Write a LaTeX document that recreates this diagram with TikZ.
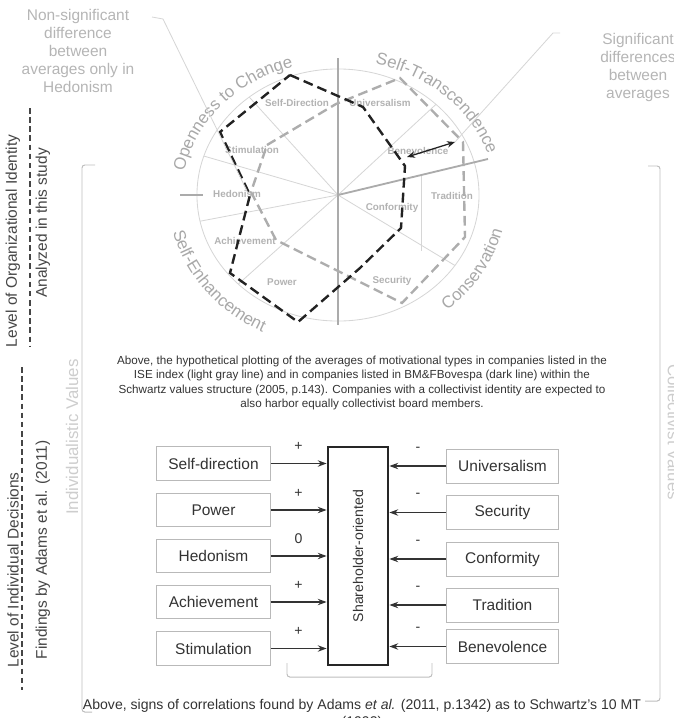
\documentclass[tikz,border=0pt]{standalone}
\usepackage{fontspec}
\setmainfont{Liberation Sans}
\usetikzlibrary{arrows.meta,positioning,calc,decorations.text}
\definecolor{inkdark}{HTML}{222222}
\definecolor{textdark}{HTML}{333333}
\definecolor{sidedark}{HTML}{454545}
\definecolor{polylight}{HTML}{ADADAD}
\definecolor{axisgray}{HTML}{ABABAB}
\definecolor{spokegray}{HTML}{D6D6D6}
\definecolor{notegray}{HTML}{B5B5B5}
\definecolor{groupgray}{HTML}{A8A8A8}
\definecolor{valgray}{HTML}{B2B2B2}
\definecolor{boxgray}{HTML}{B9B9B9}
\definecolor{bracegray}{HTML}{BDBDBD}
\definecolor{paleside}{HTML}{CDCDCD}
\tikzset{
  spoke/.style={draw=spokegray, line width=0.6pt},
  axisline/.style={draw=axisgray, line width=1.3pt},
  darkpoly/.style={draw=inkdark, line width=1.7pt, dash pattern=on 7pt off 3.6pt},
  lightpoly/.style={draw=polylight, line width=1.7pt, dash pattern=on 7pt off 3.6pt},
  vallab/.style={font=\fontsize{7}{8}\selectfont\bfseries, text=valgray, inner sep=0pt},
  note/.style={font=\fontsize{11}{12.8}\selectfont, text=notegray, align=center},
  leader/.style={draw=spokegray, line width=0.6pt},
  caption/.style={font=\fontsize{8.3}{10}\selectfont, text=textdark, align=center},
  valbox/.style={draw=boxgray, line width=0.7pt, fill=white, minimum height=0.83cm,
                 font=\fontsize{11}{13}\selectfont, text=textdark, inner sep=0pt},
  hubbox/.style={draw=black!85, line width=2pt, minimum width=1.5cm, minimum height=5.45cm, inner sep=0pt},
  arr/.style={-{Stealth[length=2.2mm, width=1.6mm]}, line width=0.8pt, draw=textdark},
  sign/.style={font=\fontsize{10}{11}\selectfont, text=textdark, text height=6.5pt, text depth=0pt, inner sep=1pt},
  sidetxt/.style={font=\fontsize{11}{13}\selectfont, text=sidedark, rotate=90},
  palesidetxt/.style={font=\fontsize{12}{14}\selectfont, text=paleside},
  levelline/.style={draw=sidedark, line width=0.8pt, dash pattern=on 4pt off 2.5pt},
  brace/.style={draw=bracegray, line width=0.7pt, rounded corners=2pt},
}
\begin{document}
\begin{tikzpicture}[x=0.025cm, y=0.025cm]
  \useasboundingbox (0,0) rectangle (674,-718);

  % value circle
  \coordinate (C) at (338,-195);
  \draw[spoke] (C) ellipse[x radius=3.525cm, y radius=3.15cm];
  \foreach \a in {129,162,192,225,46,-34}
    \draw[spoke] (C) -- ($(C)+(\a:3.525cm and 3.15cm)$);
  \draw[spoke] (421,-175) -- (421,-251);
  \draw[axisline] (338,-58) -- (338,-325);
  \draw[axisline] (C) -- (488,-159);
  \draw[axisline] (180,-195) -- (203,-195);

  % higher order types
  \path[decorate, decoration={text along path, text align=center,
      text={|\fontsize{12}{14}\selectfont\color{groupgray}|Openness to Change}}]
    ($(C)+(195:3.9cm and 3.35cm)$) arc[start angle=195, end angle=85, x radius=3.9cm, y radius=3.35cm];
  \path[decorate, decoration={text along path, text align=center,
      text={|\fontsize{12}{14}\selectfont\color{groupgray}|Self-Transcendence}}]
    ($(C)+(100:3.925cm and 3.375cm)$) arc[start angle=100, end angle=-10, x radius=3.925cm, y radius=3.375cm];
  \path[decorate, decoration={text along path, text align=center,
      text={|\fontsize{12}{14}\selectfont\color{groupgray}|Self-Enhancement}}]
    ($(C)+(165:4.25cm and 3.825cm)$) arc[start angle=165, end angle=270, x radius=4.25cm, y radius=3.825cm];
  \path[decorate, decoration={text along path, text align=center,
      text={|\fontsize{12}{14}\selectfont\color{groupgray}|Conservation}}]
    ($(C)+(275:4.225cm and 3.775cm)$) arc[start angle=275, end angle=385, x radius=4.225cm, y radius=3.775cm];

  % motivational types
  \node[vallab] (lsd) at (297,-103) {Self-Direction};
  \node[vallab] (lun) at (380,-103) {Universalism};
  \node[vallab] (lst) at (252,-150) {Stimulation};
  \node[vallab] (lbe) at (418,-151) {Benevolence};
  \node[vallab] (lhe) at (237,-194) {Hedonism};
  \node[vallab] (ltr) at (452,-196) {Tradition};
  \node[vallab] (lco) at (392,-208) {Conformity};
  \node[vallab] (lac) at (245,-241) {Achievement};
  \node[vallab] (lpo) at (282,-282) {Power};
  \node[vallab] (lse) at (392,-281) {Security};

  % averages: ISE (light) and BM&FBovespa (dark)
  \draw[lightpoly] (267,-145) -- (336,-104) -- (400,-78) -- (463,-142) -- (465,-237)
    -- (402,-303) -- (276,-240) -- (251,-192) -- cycle;
  \draw[darkpoly] (290,-75) -- (363,-107) -- (405,-166) -- (401,-228) -- (360,-268)
    -- (298,-322) -- (230,-273) -- (250,-195) -- (220,-132) -- cycle;
  \coordinate (dl) at (407,-157);
  \coordinate (dr) at (455,-142);
  \draw[{Stealth[length=2mm, width=1.6mm]}-{Stealth[length=2mm, width=1.6mm]}, line width=0.9pt, inkdark] (dl) -- (dr);

  % notes
  \node[note] (ns) at (78,-51) {Non-significant\\difference\\between\\averages only in\\Hedonism};
  \node[note] (sg) at (638,-67) {Significant\\differences\\between\\averages};
  \coordinate (nsend) at (248,-193);
  \draw[leader] (152,-17) -- (163,-19) -- (nsend);
  \draw[leader] (560,-33) -- (553,-33) -- (dr);

  \node[caption] (cap1) at (362,-383) {Above, the hypothetical plotting of the averages of motivational types in companies listed in the\\
    ISE index (light gray line) and in companies listed in BM\&FBovespa (dark line) within the\\
    Schwartz values structure (2005, p.143). Companies with a collectivist identity are expected to\\
    also harbor equally collectivist board members.};

  % Adams et al. model
  \node[hubbox] (hub) at (358,-556) {};
  \node[rotate=90, font=\fontsize{10}{12}\selectfont, text=textdark] (hubtxt) at (hub.center) {Shareholder-oriented};
  \node[valbox, minimum width=2.825cm] (sd) at (213.5,-463.5) {Self-direction};
  \node[valbox, minimum width=2.825cm] (pw) at (213.5,-510) {Power};
  \node[valbox, minimum width=2.825cm] (hd) at (213.5,-556) {Hedonism};
  \node[valbox, minimum width=2.825cm] (ac) at (213.5,-602) {Achievement};
  \node[valbox, minimum width=2.825cm] (st) at (213.5,-648.5) {Stimulation};
  \node[valbox, minimum width=2.775cm, minimum height=0.85cm] (un) at (502.5,-466) {Universalism};
  \node[valbox, minimum width=2.775cm, minimum height=0.85cm] (se) at (502.5,-512.5) {Security};
  \node[valbox, minimum width=2.775cm, minimum height=0.85cm] (cf) at (502.5,-559) {Conformity};
  \node[valbox, minimum width=2.775cm, minimum height=0.85cm] (tr) at (502.5,-605) {Tradition};
  \node[valbox, minimum width=2.775cm, minimum height=0.85cm] (be) at (502.5,-646.5) {Benevolence};
  \draw[arr] (sd.east) -- node[sign, above=7.5pt]{+} (sd.east -| hub.west);
  \draw[arr] (pw.east) -- node[sign, above=7.5pt]{+} (pw.east -| hub.west);
  \draw[arr] (hd.east) -- node[sign, above=7.5pt]{0} (hd.east -| hub.west);
  \draw[arr] (ac.east) -- node[sign, above=7.5pt]{+} (ac.east -| hub.west);
  \draw[arr] (st.east) -- node[sign, above=7.5pt]{+} (st.east -| hub.west);
  \draw[arr] (un.west) -- node[sign, above=9pt]{-} (un.west -| hub.east);
  \draw[arr] (se.west) -- node[sign, above=9pt]{-} (se.west -| hub.east);
  \draw[arr] (cf.west) -- node[sign, above=9pt]{-} (cf.west -| hub.east);
  \draw[arr] (tr.west) -- node[sign, above=9pt]{-} (tr.west -| hub.east);
  \draw[arr] (be.west) -- node[sign, above=9pt]{-} (be.west -| hub.east);
  \draw[brace] (287,-663) -- (287,-677) -- (432,-677) -- (432,-663);

  \node[caption, font=\fontsize{10}{12}\selectfont, anchor=north] (cap2) at (362,-694)
    {Above, signs of correlations found by Adams \textit{et al.} (2011, p.1342) as to Schwartz's 10 MT\\(1992)};

  % levels
  \node[sidetxt] (lvorg) at (13,-241) {Level of Organizational Identity};
  \node[sidetxt] (anl) at (43,-223) {Analyzed in this study};
  \node[sidetxt] (lvind) at (13,-570) {Level of Individual Decisions};
  \node[sidetxt] (fnd) at (43,-550) {Findings by Adams et al. (2011)};
  \draw[levelline] (30,-108) -- (30,-347);
  \draw[levelline] (22,-367) -- (22,-690);
  \node[palesidetxt, rotate=90] (indv) at (72,-437) {Individualistic Values};
  \node[palesidetxt, rotate=-90] (coll) at (674,-432) {Collectivist Values};
  \draw[brace] (95,-165) -- (82,-165) -- (82,-712) -- (92,-712);
  \draw[brace] (648,-166) -- (660,-166) -- (660,-701) -- (645,-701);
\end{tikzpicture}
\end{document}
